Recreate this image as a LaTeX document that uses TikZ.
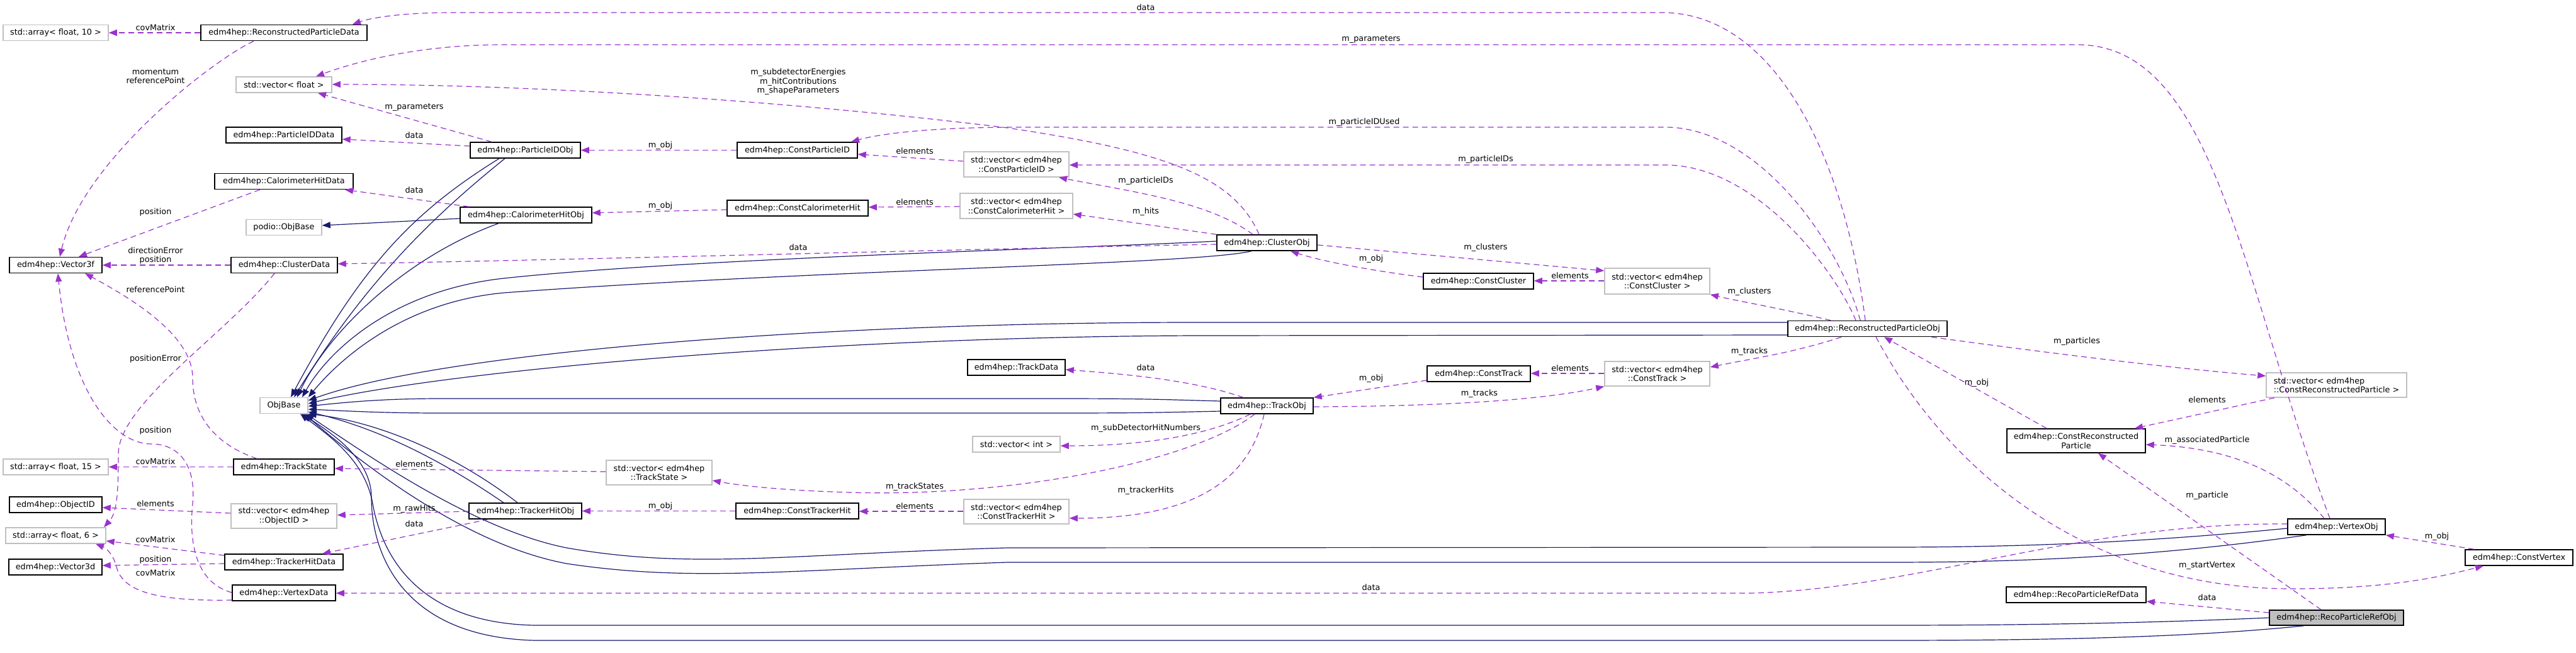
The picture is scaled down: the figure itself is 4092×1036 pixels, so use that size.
\documentclass[tikz,border=0pt]{standalone}
\usepackage{fontspec}
\setmainfont{DejaVu Sans}
\usetikzlibrary{arrows.meta}
\definecolor{usepurple}{HTML}{9A32CD}
\definecolor{inhnavy}{HTML}{191970}
\definecolor{extgray}{HTML}{BFBFBF}
\begin{document}
\begin{tikzpicture}[x=1pt,y=-1pt,font=\fontsize{12.8}{14.5}\selectfont,
    >={Triangle[length=13pt,width=10pt]},
    cls/.style={draw=black,line width=1.5pt,fill=white,inner sep=0pt,minimum height=25,align=center},
    ext/.style={cls,draw=extgray},
    self/.style={cls,fill=extgray},
    lbl/.style={inner sep=0pt,align=center},
    uses/.style={->,draw=usepurple,line width=1.2pt,dash pattern=on 9pt off 6pt},
    inh/.style={->,draw=inhnavy,line width=1.2pt}]
    \useasboundingbox (0,0) rectangle (4092,1036);
    % left column
    \node[ext,minimum width=167] (arr10) at (88.5,52) {std::array< float, 10 >};
    \node[cls,minimum width=147] (vec3f) at (88.5,421) {edm4hep::Vector3f};
    \node[ext,minimum width=167] (arr15) at (88.5,741.5) {std::array< float, 15 >};
    \node[cls,minimum width=147] (objid) at (88.5,801.5) {edm4hep::ObjectID};
    \node[ext,minimum width=159] (arr6) at (88.5,850.5) {std::array< float, 6 >};
    \node[cls,minimum width=148] (vec3d) at (88,900.5) {edm4hep::Vector3d};
    % data column
    \node[cls,minimum width=264] (rpdata) at (451,52) {edm4hep::ReconstructedParticleData};
    \node[ext,minimum width=152] (vecfloat) at (451,134.5) {std::vector< float >};
    \node[cls,minimum width=184] (pidata) at (451,214.5) {edm4hep::ParticleIDData};
    \node[cls,minimum width=220] (chdata) at (451,288) {edm4hep::CalorimeterHitData};
    \node[ext,minimum width=120] (podiobase) at (451,361) {podio::ObjBase};
    \node[cls,minimum width=169] (cldata) at (451.5,421) {edm4hep::ClusterData};
    \node[ext,minimum width=76] (objbase) at (451,644) {ObjBase};
    \node[cls,minimum width=160] (trackstate) at (451,741.5) {edm4hep::TrackState};
    \node[ext,minimum width=168,minimum height=39] (vecobjid) at (451,819.5) {std::vector< edm4hep\\::ObjectID >};
    \node[cls,minimum width=188] (thdata) at (451,892.5) {edm4hep::TrackerHitData};
    \node[cls,minimum width=164] (vxdata) at (451,941.5) {edm4hep::VertexData};
    % obj column
    \node[cls,minimum width=175] (pidobj) at (834.5,238.5) {edm4hep::ParticleIDObj};
    \node[cls,minimum width=209] (chobj) at (835.5,341.5) {edm4hep::CalorimeterHitObj};
    \node[cls,minimum width=179] (thobj) at (834.5,811.5) {edm4hep::TrackerHitObj};
    \node[ext,minimum width=168,minimum height=39] (vects) at (1047,750.5) {std::vector< edm4hep\\::TrackState >};
    % const column
    \node[cls,minimum width=191] (conspid) at (1266.5,238.5) {edm4hep::ConstParticleID};
    \node[cls,minimum width=224] (conschit) at (1267,330.5) {edm4hep::ConstCalorimeterHit};
    \node[cls,minimum width=195] (consthit) at (1266.5,811.5) {edm4hep::ConstTrackerHit};
    % vector column
    \node[ext,minimum width=167,minimum height=40] (vecpid) at (1614.5,261) {std::vector< edm4hep\\::ConstParticleID >};
    \node[ext,minimum width=179,minimum height=40] (vecchit) at (1614.5,327) {std::vector< edm4hep\\::ConstCalorimeterHit >};
    \node[cls,minimum width=155] (trackdata) at (1614.5,583.5) {edm4hep::TrackData};
    \node[ext,minimum width=139] (vecint) at (1614.5,705.5) {std::vector< int >};
    \node[ext,minimum width=167,minimum height=39] (vecthit) at (1614.5,812.5) {std::vector< edm4hep\\::ConstTrackerHit >};
    % cluster and track
    \node[cls,minimum width=159] (clobj) at (2012.5,385.5) {edm4hep::ClusterObj};
    \node[cls,minimum width=147] (trackobj) at (2012.5,644.5) {edm4hep::TrackObj};
    \node[cls,minimum width=175] (conscl) at (2348.5,446.5) {edm4hep::ConstCluster};
    \node[cls,minimum width=164] (constrack) at (2349,593.5) {edm4hep::ConstTrack};
    \node[ext,minimum width=167,minimum height=41] (veccl) at (2632.5,446.5) {std::vector< edm4hep\\::ConstCluster >};
    \node[ext,minimum width=167,minimum height=39] (vectrack) at (2632.5,593.5) {std::vector< edm4hep\\::ConstTrack >};
    % right part
    \node[cls,minimum width=253] (rpobj) at (2966.5,522) {edm4hep::ReconstructedParticleObj};
    \node[cls,minimum width=220,minimum height=38] (consrp) at (3298,700) {edm4hep::ConstReconstructed\\Particle};
    \node[cls,minimum width=222] (recorefdata) at (3298,944.5) {edm4hep::RecoParticleRefData};
    \node[ext,minimum width=223,minimum height=39,align=left] (vecrp) at (3711.5,611.5) {std::vector< edm4hep\\::ConstReconstructedParticle >};
    \node[cls,minimum width=155] (vxobj) at (3711.5,836.5) {edm4hep::VertexObj};
    \node[self,minimum width=213,minimum height=24] (recorefobj) at (3711.5,981) {edm4hep::RecoParticleRefObj};
    \node[cls,minimum width=171] (consvx) at (4001.5,885.5) {edm4hep::ConstVertex};
    % inheritance
    \draw[inh] (chobj.west |- 0,347) -- (podiobase.east |- 0,358);
    \draw[inh] (chobj.south -| 792,0) .. controls (640,410) and (520,530) .. (objbase.north -| 472,0);
    \draw[inh] (pidobj.south -| 793,0) .. controls (650,340) and (570,430) .. (objbase.north -| 462,0);
    \draw[inh] (pidobj.south -| 802,0) .. controls (680,350) and (580,450) .. (objbase.north -| 467,0);
    \draw[inh] (clobj.west |- 0,383) .. controls (1700,395) and (1100,410) .. (800,442) .. controls (620,462) and (520,560) .. (objbase.north -| 480,0);
    \draw[inh] (clobj.south -| 1988,0) .. controls (1900,420) and (1300,428) .. (800,465) .. controls (640,480) and (540,570) .. (objbase.north east);
    \draw[inh] (rpobj.west |- 0,512) -- (1900,512) .. controls (1300,512) and (700,560) .. (objbase.east |- 0,636);
    \draw[inh] (rpobj.west |- 0,532) -- (1900,533) .. controls (1300,535) and (700,590) .. (objbase.east |- 0,641);
    \draw[inh] (trackobj.west |- 0,637) .. controls (1800,633) .. (1600,633) -- (700,633) .. controls (600,633) and (540,640) .. (objbase.east |- 0,645);
    \draw[inh] (trackobj.west |- 0,653) .. controls (1800,656) .. (1600,656) -- (700,656) .. controls (600,656) and (540,652) .. (objbase.east |- 0,650);
    \draw[inh] (thobj.north -| 800,0) .. controls (700,730) and (600,680) .. (objbase.east |- 0,654);
    \draw[inh] (thobj.north -| 822,0) .. controls (720,720) and (600,670) .. (objbase.south east);
    \draw[inh] (vxobj.west |- 0,839) .. controls (3400,862) and (3200,869) .. (3000,869) -- (1600,870) .. controls (1250,880) and (1100,905) .. (900,870) .. controls (750,840) and (580,720) .. (objbase.south -| 486,0);
    \draw[inh] (vxobj.south -| 3664,0) .. controls (3450,880) and (3250,893) .. (3000,893) -- (1600,893) .. controls (1250,905) and (1100,925) .. (900,895) .. controls (740,865) and (580,740) .. (objbase.south -| 483,0);
    \draw[inh] (recorefobj.west |- 0,981) .. controls (3400,990) and (3200,993) .. (3000,993) -- (850,993) .. controls (680,990) and (610,900) .. (592,800) .. controls (580,730) and (520,690) .. (objbase.south -| 477,0);
    \draw[inh] (recorefobj.south -| 3660,0) .. controls (3500,1010) and (3300,1017) .. (3000,1017) -- (850,1017) .. controls (640,1012) and (590,880) .. (590,790) .. controls (590,730) and (530,690) .. (objbase.south -| 480,0);
    % members, left part
    \draw[uses] (rpdata.west) -- (arr10.east);
    \node[lbl] (lcov10) at (247,44) {covMatrix};
    \draw[uses] (rpdata.south -| 403,0) .. controls (330,100) and (130,260) .. (vec3f.north -| 95,0);
    \node[lbl] (lmom) at (247,121) {momentum\\referencePoint};
    \draw[uses] (pidobj.north -| 781,0) -- (vecfloat.south -| 505,0);
    \node[lbl] (lpar1) at (658,171) {m\_parameters};
    \draw[uses] (pidobj.west |- 0,232) -- (pidata.east |- 0,221);
    \node[lbl] (ldpid) at (658,215) {data};
    \draw[uses] (chobj.north -| 745,0) -- (chdata.south -| 548,0);
    \node[lbl] (ldch) at (658,302) {data};
    \draw[uses] (chdata.south -| 413,0) -- (vec3f.north -| 125,0);
    \node[lbl] (lposch) at (247,337) {position};
    \draw[uses] (cldata.west) -- (vec3f.east);
    \node[lbl] (ldir) at (247,406) {directionError\\position};
    \draw[uses] (trackstate.north -| 408,0) .. controls (340,705) and (306,660) .. (306,600) .. controls (306,540) and (230,485) .. (vec3f.south -| 135,0);
    \node[lbl] (lref) at (247,460) {referencePoint};
    \draw[uses] (cldata.south -| 436,0) .. controls (360,530) and (190,640) .. (188,720) .. controls (188,790) and (185,815) .. (arr6.north -| 165,0);
    \node[lbl] (lposerr) at (247,570) {positionError};
    \draw[uses] (vxdata.west |- 0,941) .. controls (310,925) and (300,860) .. (306,800) .. controls (312,740) and (285,705) .. (240,705) .. controls (180,705) and (110,620) .. (vec3f.south -| 92,0);
    \node[lbl] (lposvx) at (247,684) {position};
    \draw[uses] (trackstate.west) -- (arr15.east);
    \node[lbl] (lcov15) at (247,733) {covMatrix};
    \draw[uses] (vects.west |- 0,749) -- (trackstate.east |- 0,744);
    \node[lbl] (lelts) at (658,737) {elements};
    \draw[uses] (vecobjid.west |- 0,815) -- (objid.east |- 0,806);
    \node[lbl] (leloid) at (247,800) {elements};
    \draw[uses] (thobj.west |- 0,812) -- (vecobjid.east |- 0,818);
    \node[lbl] (lraw) at (658,808) {m\_rawHits};
    \draw[uses] (thobj.south -| 776,0) -- (thdata.north -| 512,0);
    \node[lbl] (ldth) at (658,832) {data};
    \draw[uses] (thdata.west |- 0,882) -- (arr6.east |- 0,859);
    \node[lbl] (lcovth) at (247,857) {covMatrix};
    \draw[uses] (thdata.west |- 0,895) -- (vec3d.east |- 0,898);
    \node[lbl] (lposth) at (247,889) {position};
    \draw[uses] (vxdata.west |- 0,953) .. controls (250,955) and (195,940) .. (185,900) .. controls (180,880) and (168,870) .. (arr6.south -| 152,0);
    \node[lbl] (lcovvx) at (247,910) {covMatrix};
    % members, middle part
    \draw[uses] (conspid.west) -- (pidobj.east);
    \node[lbl] (lobjpid) at (1049,231) {m\_obj};
    \draw[uses] (conschit.west |- 0,333) -- (chobj.east |- 0,338);
    \node[lbl] (lobjch) at (1049,327) {m\_obj};
    \draw[uses] (consthit.west) -- (thobj.east);
    \node[lbl] (lobjth) at (1049,804) {m\_obj};
    \draw[uses] (vecpid.west |- 0,256) -- (conspid.east |- 0,245);
    \node[lbl] (lelpid) at (1453,240) {elements};
    \draw[uses] (vecchit.west |- 0,328) -- (conschit.east |- 0,329);
    \node[lbl] (lelch) at (1453,321) {elements};
    \draw[uses] (vecthit.west |- 0,812) -- (consthit.east |- 0,812);
    \node[lbl] (lelth) at (1453,804) {elements};
    \draw[uses] (clobj.west |- 0,388) .. controls (1600,394) and (900,413) .. (cldata.east |- 0,419);
    \node[lbl] (ldcl) at (1268,393) {data};
    \draw[uses] (clobj.north -| 2000,0) .. controls (1960,280) and (1850,240) .. (1600,203) .. controls (1250,160) and (850,134) .. (vecfloat.east |- 0,134);
    \node[lbl] (lsub) at (1268,130) {m\_subdetectorEnergies\\m\_hitContributions\\m\_shapeParameters};
    \draw[uses] (clobj.north -| 1990,0) .. controls (1920,320) and (1800,305) .. (vecpid.south -| 1682,0);
    \node[lbl] (lpidcl) at (1820,287) {m\_particleIDs};
    \draw[uses] (clobj.north west) -- (vecchit.east |- 0,340);
    \node[lbl] (lhits) at (1820,336) {m\_hits};
    \draw[uses] (trackobj.north -| 1975,0) .. controls (1900,605) and (1800,595) .. (trackdata.east |- 0,587);
    \node[lbl] (ldtr) at (1820,584) {data};
    \draw[uses] (trackobj.south -| 1986,0) .. controls (1900,700) and (1780,708) .. (vecint.east |- 0,708);
    \node[lbl] (lsubhit) at (1820,680) {m\_subDetectorHitNumbers};
    \draw[uses] (trackobj.south -| 1993,0) .. controls (1900,730) and (1620,790) .. (1350,782) .. controls (1250,779) and (1180,772) .. (vects.east |- 0,763);
    \node[lbl] (lstates) at (1453,773) {m\_trackStates};
    \draw[uses] (trackobj.south -| 2008,0) .. controls (1985,760) and (1900,823) .. (vecthit.east |- 0,823);
    \node[lbl] (ltrhits) at (1820,779) {m\_trackerHits};
    \draw[uses] (vxobj.west |- 0,832) .. controls (3300,830) and (3050,935) .. (2780,942) -- (vxdata.east |- 0,942);
    \node[lbl] (ldvx) at (2178,933) {data};
    % members, reconstructed particle
    \draw[uses] (rpobj.north -| 2963,0) .. controls (2930,250) and (2820,20) .. (2640,20) -- (720,20) .. controls (640,20) and (590,28) .. (rpdata.north -| 560,0);
    \node[lbl] (ldrp) at (1820,12) {data};
    \draw[uses] (vxobj.north -| 3701,0) .. controls (3560,450) and (3520,71) .. (3300,71) -- (800,71) .. controls (660,71) and (560,100) .. (vecfloat.north -| 502,0);
    \node[lbl] (lpar2) at (2178,63) {m\_parameters};
    \draw[uses] (rpobj.north -| 2955,0) .. controls (2920,380) and (2790,202) .. (2645,202) -- (1620,202) .. controls (1480,202) and (1400,212) .. (conspid.north -| 1352,0);
    \node[lbl] (lused) at (2167,194) {m\_particleIDUsed};
    \draw[uses] (rpobj.north -| 2948,0) .. controls (2915,430) and (2790,262) .. (2645,262) -- (vecpid.east |- 0,262);
    \node[lbl] (lpidrp) at (2360,253) {m\_particleIDs};
    \draw[uses] (clobj.east |- 0,389) -- (veccl.west |- 0,430);
    \node[lbl] (lclcl) at (2360,393) {m\_clusters};
    \draw[uses] (conscl.west |- 0,440) .. controls (2180,430) and (2100,415) .. (clobj.south -| 2050,0);
    \node[lbl] (lobjcl) at (2178,411) {m\_obj};
    \draw[uses] (veccl.west |- 0,446) -- (conscl.east |- 0,446);
    \node[lbl] (lelcl) at (2494,438) {elements};
    \draw[uses] (rpobj.north -| 2908,0) .. controls (2830,490) and (2760,478) .. (veccl.south east);
    \node[lbl] (lclrp) at (2779,463) {m\_clusters};
    \draw[uses] (constrack.west |- 0,604) -- (trackobj.north east);
    \node[lbl] (lobjtr) at (2178,601) {m\_obj};
    \draw[uses] (trackobj.east |- 0,646) .. controls (2300,645) and (2450,635) .. (vectrack.south west);
    \node[lbl] (ltrtr) at (2350,625) {m\_tracks};
    \draw[uses] (vectrack.west |- 0,593) -- (constrack.east |- 0,593);
    \node[lbl] (leltr) at (2494,585) {elements};
    \draw[uses] (rpobj.south -| 2925,0) .. controls (2850,560) and (2780,570) .. (vectrack.east |- 0,583);
    \node[lbl] (ltrrp) at (2779,558) {m\_tracks};
    % members, right part
    \draw[uses] (rpobj.south -| 3068,0) .. controls (3250,560) and (3450,585) .. (vecrp.west |- 0,597);
    \node[lbl] (lparts) at (3299,542) {m\_particles};
    \draw[uses] (vecrp.south -| 3613,0) -- (consrp.north -| 3391,0);
    \node[lbl] (lelrp) at (3506,635) {elements};
    \draw[uses] (consrp.north -| 3251,0) -- (rpobj.south -| 2993,0);
    \node[lbl] (lobjrp) at (3140,608) {m\_obj};
    \draw[uses] (vxobj.north -| 3692,0) .. controls (3640,760) and (3560,712) .. (consrp.east |- 0,706);
    \node[lbl] (lassoc) at (3506,699) {m\_associatedParticle};
    \draw[uses] (recorefobj.north -| 3687,0) -- (consrp.south -| 3333,0);
    \node[lbl] (lpart) at (3506,787) {m\_particle};
    \draw[uses] (rpobj.south -| 2980,0) .. controls (3100,760) and (3330,935) .. (3640,935) .. controls (3800,935) and (3880,915) .. (consvx.south -| 3945,0);
    \node[lbl] (lstart) at (3506,898) {m\_startVertex};
    \draw[uses] (consvx.north -| 3930,0) -- (vxobj.south east);
    \node[lbl] (lobjvx) at (3871,852) {m\_obj};
    \draw[uses] (recorefobj.west |- 0,973) -- (recorefdata.east |- 0,955);
    \node[lbl] (ldref) at (3506,949) {data};
\end{tikzpicture}
\end{document}
